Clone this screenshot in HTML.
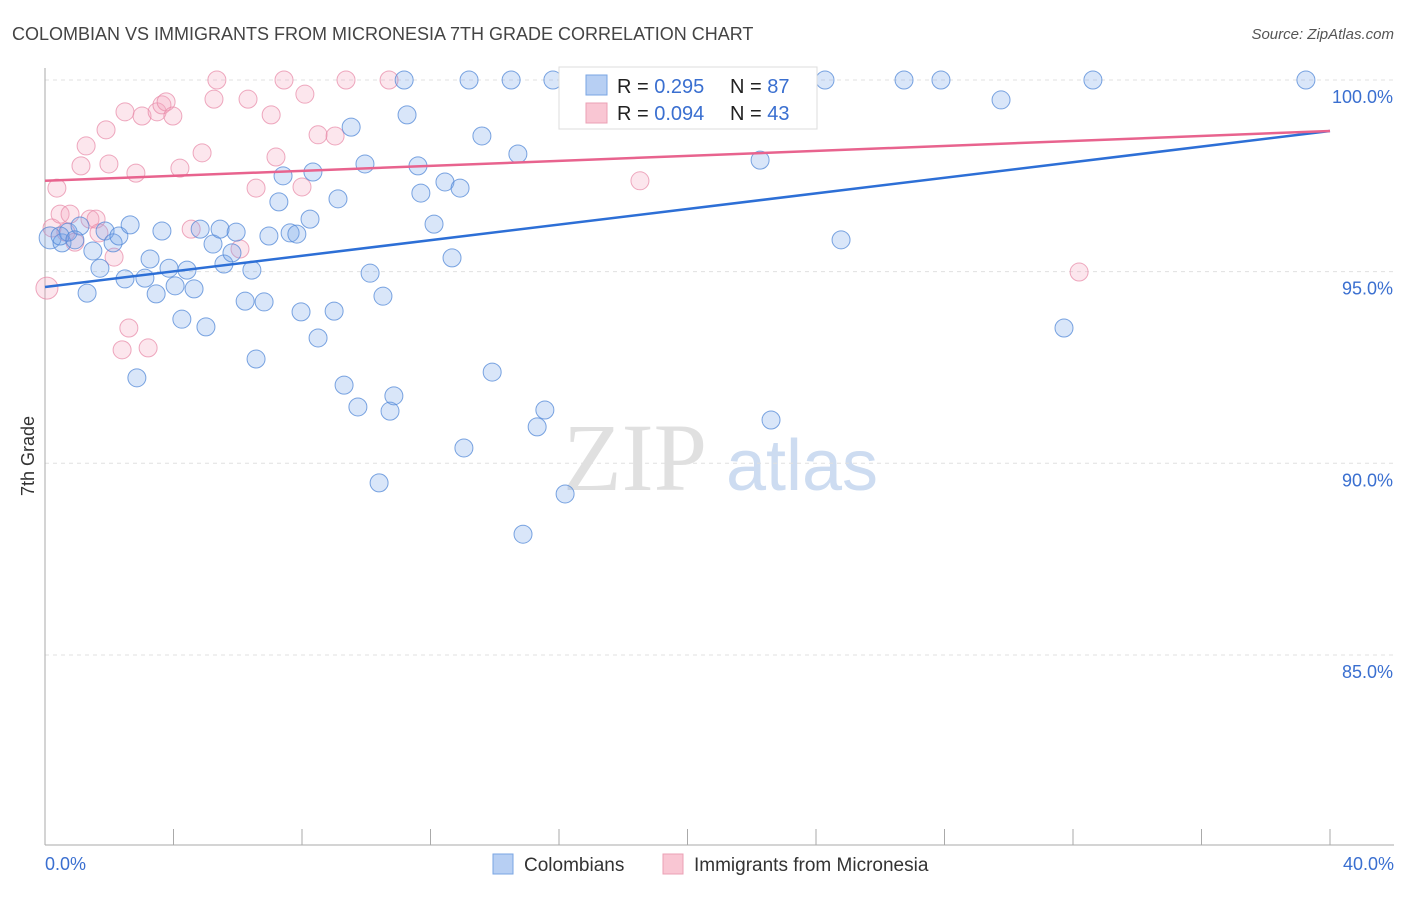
<!DOCTYPE html>
<html><head><meta charset="utf-8"><style>
body{margin:0;background:#fff;font-family:"Liberation Sans",sans-serif;}
svg text{font-family:"Liberation Sans",sans-serif;}
</style></head><body>
<svg id="chart" width="1406" height="892" xmlns="http://www.w3.org/2000/svg">
<text x="12" y="40" font-size="18" fill="#444">COLOMBIAN VS IMMIGRANTS FROM MICRONESIA 7TH GRADE CORRELATION CHART</text>
<text x="1394" y="39" font-size="15" fill="#555" font-style="italic" text-anchor="end">Source: ZipAtlas.com</text>
<text x="34" y="456" font-size="18" fill="#333" transform="rotate(-90 34 456)" text-anchor="middle">7th Grade</text>
<g><text x="635" y="490" font-size="96" fill="#e0e0e0" text-anchor="middle" style="font-family:'Liberation Serif',serif">ZIP</text><text x="802" y="490" font-size="72" fill="#cddcf1" text-anchor="middle">atlas</text></g>
<g id="grid"></g><g id="axes"></g><g id="pts"></g><g id="lines"></g>
<g>
<rect x="559" y="67" width="258" height="62" fill="#fff" stroke="#ddd"/>
<rect x="586" y="75" width="21" height="20" fill="#b7cff3" stroke="#7aa5e3"/>
<rect x="586" y="103" width="21" height="20" fill="#f9c6d3" stroke="#eba0b5"/>
<text x="617" y="93" font-size="20" fill="#222">R = <tspan fill="#3a6fd0">0.295</tspan></text>
<text x="730" y="93" font-size="20" fill="#222">N = <tspan fill="#3a6fd0">87</tspan></text>
<text x="617" y="120" font-size="20" fill="#222">R = <tspan fill="#3a6fd0">0.094</tspan></text>
<text x="730" y="120" font-size="20" fill="#222">N = <tspan fill="#3a6fd0">43</tspan></text>
</g>
<g>
<rect x="493" y="854" width="20" height="20" fill="#b7cff3" stroke="#7aa5e3"/>
<text x="524" y="871" font-size="19" fill="#333">Colombians</text>
<rect x="663" y="854" width="20" height="20" fill="#f9c6d3" stroke="#eba0b5"/>
<text x="694" y="871" font-size="19" fill="#333">Immigrants from Micronesia</text>
</g>
</svg>
<script>
const yTicks=[100,95,90,85];
const yTickLabels=["100.0%","95.0%","90.0%","85.0%"];
const xLabels=["0.0%","40.0%"];
const blueX=[0.16,0.53,0.72,0.47,1.09,0.93,1.31,1.49,1.71,1.87,2.12,2.30,2.49,2.65,2.86,3.11,3.27,3.46,3.64,3.86,4.05,4.26,4.42,4.64,4.83,5.01,5.23,5.45,5.57,5.95,5.82,6.23,6.44,6.57,6.82,6.97,7.28,7.41,7.63,7.84,7.97,8.25,8.34,8.50,9.00,9.12,9.31,9.53,9.74,9.96,10.12,10.40,10.52,10.74,10.86,11.18,11.27,11.61,11.70,12.11,12.45,12.67,12.92,13.04,13.20,13.60,13.92,14.51,14.72,14.88,15.32,15.56,15.81,16.19,22.26,22.60,24.28,24.78,26.74,27.89,29.76,31.72,32.62,39.25];
const blueY=[95.88,95.75,96.03,95.93,96.19,95.83,94.44,95.54,95.09,96.06,95.75,95.93,94.81,96.22,92.23,94.83,95.33,94.42,96.06,95.09,94.63,93.76,95.04,94.55,96.11,93.56,95.72,96.11,95.20,96.03,95.49,94.23,95.04,92.72,94.21,95.93,96.82,97.50,96.01,95.98,93.95,96.37,97.60,93.27,93.97,96.90,92.04,98.77,91.47,97.81,94.96,89.49,94.36,91.36,91.76,100,99.09,97.76,97.05,96.24,97.34,95.36,97.18,90.40,100,98.54,92.38,100,98.07,88.15,90.95,91.39,100,89.20,97.91,91.13,100,95.83,100,100,99.48,93.53,100,100];
const pinkX=[0.06,0.22,0.37,0.47,0.65,0.78,0.93,1.12,1.28,1.40,1.59,1.68,1.90,1.99,2.15,2.49,2.61,2.40,2.83,3.02,3.21,3.49,3.64,3.77,3.98,4.20,4.55,4.89,5.26,5.35,6.07,6.32,6.57,7.04,7.19,7.44,8.00,8.09,8.50,9.03,9.37,10.71,18.52,32.19];
const pinkY=[94.57,96.14,97.18,96.50,96.03,96.50,95.77,97.76,98.28,96.37,96.37,96.01,98.70,97.81,95.38,99.17,93.53,92.96,97.57,99.06,93.01,99.17,99.35,99.43,99.06,97.70,96.11,98.10,99.50,100,95.59,99.50,97.18,99.09,97.99,100,97.21,99.63,98.57,98.54,100,100,97.37,94.99];
const blueTrend=[94.6,98.67];
const pinkTrend=[97.37,98.67];
const NS="http://www.w3.org/2000/svg";
const X=v=>45+v/40*1285, Y=v=>80+(100-v)*38.33;
function mk(t,a,p){const e=document.createElementNS(NS,t);for(const k in a)e.setAttribute(k,a[k]);p.appendChild(e);return e;}
const grid=document.getElementById('grid'),axes=document.getElementById('axes'),pts=document.getElementById('pts'),lines=document.getElementById('lines');
yTicks.forEach((t,i)=>{
 const l=mk('line',{x1:45,x2:1394,y1:Y(t),y2:Y(t),stroke:'#e0e0e0','stroke-dasharray':'4 4'},grid);
 
 
 const tx=mk('text',{x:1393,y:Y(t)+23,'font-size':18,fill:'#3a6fd0','text-anchor':'end'},axes);tx.textContent=yTickLabels[i];
 
 
});
mk('line',{x1:45,x2:45,y1:68,y2:845,stroke:'#aaa'},axes);
mk('line',{x1:45,x2:1394,y1:845,y2:845,stroke:'#aaa'},axes);
for(let i=0;i<=10;i++){const tk=mk('line',{x1:X(i*4),x2:X(i*4),y1:829,y2:845,stroke:'#aaa'},axes);
 
 }
[[45,'start',0],[1394,'end',1]].forEach(([x,a,i])=>{const t=mk('text',{x:x,y:870,'font-size':18,fill:'#3a6fd0','text-anchor':a},axes);t.textContent=xLabels[i];
 
 });
function dots(xs,ys,fill,stroke,name){xs.forEach((x,i)=>{const c=mk('circle',{cx:X(x),cy:Y(ys[i]),r:i===0?11:9,fill:fill,stroke:stroke,'stroke-width':1},pts);
 
 });}
dots(pinkX,pinkY,'rgba(244,165,190,0.28)','rgba(232,140,170,0.75)','micronesia-point');
dots(blueX,blueY,'rgba(120,165,235,0.28)','rgba(80,135,215,0.75)','colombian-point');
const bl=mk('line',{x1:X(0),y1:Y(blueTrend[0]),x2:X(40),y2:Y(blueTrend[1]),stroke:'#2d6fd6','stroke-width':2.5},lines);


const pl=mk('line',{x1:X(0),y1:Y(pinkTrend[0]),x2:X(40),y2:Y(pinkTrend[1]),stroke:'#e8638e','stroke-width':2.5},lines);


</script>
</body></html>
